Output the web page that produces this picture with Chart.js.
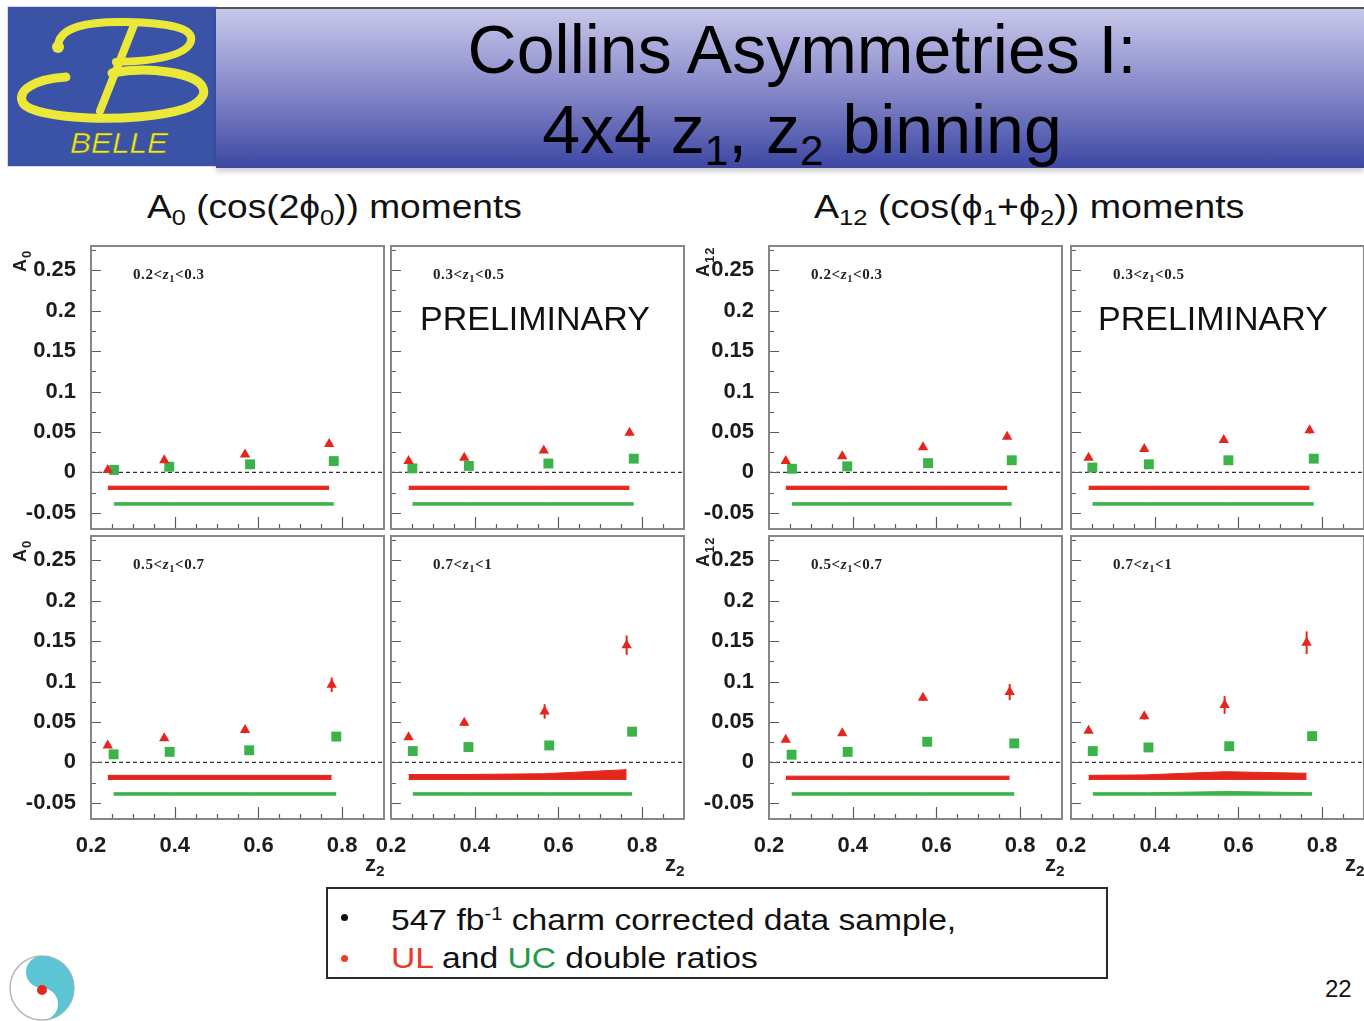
<!DOCTYPE html>
<html>
<head>
<meta charset="utf-8">
<title>Collins Asymmetries I: 4x4 z1, z2 binning</title>
<script src="https://cdn.jsdelivr.net/npm/chart.js@4.4.1/dist/chart.umd.min.js"></script>
<style>
  html, body { margin: 0; padding: 0; background: #fff; }
  body { width: 1364px; height: 1021px; overflow: hidden; position: relative;
         font-family: 'Liberation Sans', Arial, Helvetica, sans-serif; color: #111; }
  .abs { position: absolute; white-space: nowrap; }
  #logo { left: 8px; top: 7px; width: 208px; height: 159px; background: #3a53a7;
          box-shadow: 0 0 0 1px #d8d8e8; }
  #banner { left: 216px; top: 7px; width: 1148px; height: 159px;
            background: linear-gradient(to bottom, #c8c8e9 0%, #abacdc 22%, #8789c9 50%, #5e65b4 78%, #3d47a3 100%);
            border-top: 2px solid #555; box-shadow: 0 4px 5px rgba(0,0,0,0.18); }
  .title { font-size: 68px; line-height: 68px; color: #000; text-align: center; width: 900px; left: 352px; }
  .title sub { font-size: 0.62em; vertical-align: -0.28em; line-height: 0; }
  .sub { font-size: 33px; line-height: 33px; color: #111; transform-origin: left top; }
  .sub sub { font-size: 0.68em; vertical-align: -0.3em; line-height: 0; }
  .zlab { font-family: 'Liberation Serif', 'Times New Roman', serif; font-weight: bold; font-size: 15px;
          line-height: 16px; color: #222; letter-spacing: 0.6px; }
  .zlab sub { font-size: 0.7em; vertical-align: -0.3em; line-height: 0; }
  .prelim { font-size: 34px; line-height: 34px; color: #111; }
  .ytitle { font-size: 18px; line-height: 18px; font-weight: bold; color: #222; letter-spacing: 1px;
            transform-origin: left top; transform: rotate(-90deg); }
  .ytitle sub { font-size: 0.72em; vertical-align: -0.35em; line-height: 0; }
  .xtitle { font-size: 22px; line-height: 22px; font-weight: bold; color: #222; }
  .xtitle sub { font-size: 0.7em; vertical-align: -0.35em; line-height: 0; }
  #note { left: 326px; top: 887px; width: 778px; height: 88px; border: 2px solid #2a2a2a; }
  .line { font-size: 30px; line-height: 30px; color: #111; transform-origin: left top; transform: scaleX(1.12); }
  .line sup { font-size: 0.6em; vertical-align: 0.55em; line-height: 0; }
  .dot { width: 7px; height: 7px; border-radius: 50%; }
  canvas.panel { position: absolute; }
</style>
</head>
<body>

<div id="logo" class="abs">
  <svg width="208" height="159" viewBox="0 0 208 159">
    <g fill="none" stroke="#ece83a" stroke-linecap="round">
      <!-- upper bowl of the B -->
      <path d="M50 40 C50 20 80 14 118 15 C158 16 186 20 183 34 C179 48 150 54 108 55" stroke-width="8"/>
      <!-- slanted stem -->
      <path d="M126 18 L92 104" stroke-width="8"/>
      <!-- lower bowl -->
      <path d="M58 70 C26 72 8 84 15 96 C26 113 128 117 176 102 C205 92 204 71 160 65 C140 62 120 63 104 66" stroke-width="9"/>
    </g>
    <circle cx="50" cy="40" r="6" fill="#ece83a"/>
    <text x="62" y="146" font-family="Liberation Sans, Arial, sans-serif" font-style="italic" font-size="30"
          fill="#ece83a" stroke="#6b6a2a" stroke-width="0.6" textLength="98" lengthAdjust="spacingAndGlyphs">BELLE</text>
  </svg>
</div>
<div id="banner" class="abs"></div>
<div class="abs title" style="top:15px;">Collins Asymmetries I:</div>
<div class="abs title" style="top:95px;">4x4 z<sub>1</sub>, z<sub>2</sub> binning</div>

<div class="abs sub" style="left:147px; top:190px; transform:scaleX(1.125);">A<sub>0</sub> (cos(2ϕ<sub>0</sub>)) moments</div>
<div class="abs sub" style="left:814px; top:190px; transform:scaleX(1.14);">A<sub>12</sub> (cos(ϕ<sub>1</sub>+ϕ<sub>2</sub>)) moments</div>

<div id="note" class="abs"></div>
<div class="abs dot" style="left:341px; top:914px; background:#111;"></div>
<div class="abs dot" style="left:341px; top:955px; background:#ef3b2c;"></div>
<div class="abs line" style="left:391px; top:905px;">547 fb<sup>-1</sup> charm corrected data sample,</div>
<div class="abs line" style="left:391px; top:943px;"><span style="color:#ea3a2b">UL</span> and <span style="color:#1f9a49">UC</span> double ratios</div>
<div class="abs" style="left:1325px; top:977px; font-size:24px; line-height:24px; color:#111;">22</div>

<div class="abs" style="left:6px; top:952px;">
  <svg width="72" height="72" viewBox="0 0 72 72">
    <circle cx="36" cy="36" r="32" fill="#fff" stroke="#b8b8b8" stroke-width="1.5"/>
    <path d="M36 4 A32 32 0 0 1 36 68 A16 16 0 0 0 36 36 A16 16 0 0 1 36 4 Z" fill="#5cc4d2"/>
    <circle cx="36" cy="38" r="5" fill="#e3261f"/>
  </svg>
</div>

<script>
// ---- axis ticks ----
const z2Ticks = [0.2, 0.4, 0.6, 0.8];
const asymTicks = [-0.05, 0, 0.05, 0.1, 0.15, 0.2, 0.25];
const z1Bins = ['0.2<z1<0.3', '0.3<z1<0.5', '0.5<z1<0.7', '0.7<z1<1'];

// ---- mean z2 of the four z2 bins, one row per z1 bin ----
const ulZ2 = [
  [0.240, 0.375, 0.568, 0.769],
  [0.242, 0.375, 0.565, 0.770],
  [0.240, 0.375, 0.568, 0.775],
  [0.242, 0.375, 0.567, 0.763]
];
const ucZ2 = [
  [0.255, 0.387, 0.580, 0.780],
  [0.251, 0.386, 0.576, 0.780],
  [0.254, 0.388, 0.578, 0.786],
  [0.252, 0.385, 0.578, 0.776]
];

// ---- A0 moments: cos(2phi0) ----
const a0UL = [
  [0.003, 0.015, 0.022, 0.035],
  [0.014, 0.018, 0.027, 0.049],
  [0.021, 0.030, 0.040, 0.096],
  [0.031, 0.049, 0.063, 0.145]
];
const a0ULErr = [
  [0.002, 0.002, 0.003, 0.003],
  [0.002, 0.002, 0.003, 0.004],
  [0.002, 0.003, 0.004, 0.009],
  [0.003, 0.004, 0.009, 0.012]
];
const a0UC = [
  [0.003, 0.007, 0.010, 0.014],
  [0.005, 0.008, 0.011, 0.017],
  [0.010, 0.013, 0.015, 0.032],
  [0.014, 0.019, 0.021, 0.038]
];
const a0UCErr = [
  [0.001, 0.001, 0.002, 0.002],
  [0.001, 0.001, 0.002, 0.002],
  [0.001, 0.002, 0.002, 0.003],
  [0.002, 0.002, 0.003, 0.004]
];
const a0ULSys = [
  [0.004, 0.004, 0.004, 0.004],
  [0.004, 0.004, 0.004, 0.004],
  [0.005, 0.005, 0.005, 0.005],
  [0.006, 0.006, 0.007, 0.012]
];
const a0UCSys = [
  [0.003, 0.003, 0.003, 0.003],
  [0.003, 0.003, 0.003, 0.003],
  [0.003, 0.003, 0.003, 0.003],
  [0.003, 0.003, 0.003, 0.003]
];

// ---- A12 moments: cos(phi1+phi2) ----
const a12UL = [
  [0.014, 0.020, 0.031, 0.044],
  [0.018, 0.029, 0.040, 0.052],
  [0.028, 0.036, 0.080, 0.087],
  [0.039, 0.057, 0.071, 0.148]
];
const a12ULErr = [
  [0.002, 0.002, 0.003, 0.003],
  [0.002, 0.002, 0.003, 0.004],
  [0.002, 0.003, 0.004, 0.010],
  [0.003, 0.004, 0.011, 0.014]
];
const a12UC = [
  [0.0045, 0.0075, 0.0115, 0.015],
  [0.006, 0.010, 0.015, 0.017],
  [0.0095, 0.013, 0.0255, 0.0235],
  [0.014, 0.0185, 0.020, 0.0325]
];
const a12UCErr = [
  [0.001, 0.001, 0.002, 0.002],
  [0.001, 0.001, 0.002, 0.002],
  [0.001, 0.002, 0.002, 0.003],
  [0.002, 0.002, 0.003, 0.004]
];
const a12ULSys = [
  [0.004, 0.004, 0.004, 0.004],
  [0.004, 0.004, 0.004, 0.004],
  [0.004, 0.004, 0.004, 0.004],
  [0.005, 0.0055, 0.0095, 0.0075]
];
const a12UCSys = [
  [0.003, 0.003, 0.003, 0.003],
  [0.003, 0.003, 0.003, 0.003],
  [0.003, 0.003, 0.003, 0.003],
  [0.003, 0.003, 0.0045, 0.003]
];

// systematic bands are drawn as offset strips below zero
const ulBandBase = -0.021;
const ucBandBase = -0.0405;

// ---- styling ----
const RED = '#e4271d';
const GREEN = '#3cb34a';
const TICK_FONT = { family: "'Liberation Sans', Arial, sans-serif", size: 22, weight: 'bold' };

// frame rectangle plus inward ROOT-style tick marks
const framePlugin = {
  id: 'rootFrame',
  afterDatasetsDraw(chart) {
    const { ctx, chartArea: a, scales: { x, y } } = chart;
    ctx.save();
    ctx.strokeStyle = '#5a5a5a';
    ctx.lineWidth = 1.2;
    ctx.beginPath();
    for (let i = -2; i <= 11; i++) {
      const v = i * 0.025;
      const py = Math.round(y.getPixelForValue(v)) + 0.5;
      if (py <= a.top + 1 || py >= a.bottom - 1) continue;
      const len = (i % 2 === 0) ? 10 : 5;
      ctx.moveTo(a.left, py); ctx.lineTo(a.left + len, py);
    }
    for (let i = 5; i <= 17; i++) {
      const v = i * 0.05;
      const px = Math.round(x.getPixelForValue(v)) + 0.5;
      if (px <= a.left + 1 || px >= a.right - 1) continue;
      const len = (i % 4 === 0) ? 12 : 5;
      ctx.moveTo(px, a.bottom); ctx.lineTo(px, a.bottom - len);
    }
    ctx.stroke();
    ctx.strokeStyle = '#868686';
    ctx.lineWidth = 2;
    ctx.strokeRect(a.left, a.top, a.width, a.height);
    ctx.restore();
  }
};

// vertical statistical error bars for point datasets carrying yErr
const errorBarPlugin = {
  id: 'errorBars',
  afterDatasetsDraw(chart) {
    const { ctx, scales: { y } } = chart;
    ctx.save();
    chart.data.datasets.forEach((ds, di) => {
      if (!ds.yErr) return;
      const meta = chart.getDatasetMeta(di);
      ctx.strokeStyle = ds.backgroundColor;
      ctx.lineWidth = 2;
      meta.data.forEach((pt, i) => {
        const v = ds.data[i].y, e = ds.yErr[i];
        ctx.beginPath();
        ctx.moveTo(pt.x, y.getPixelForValue(v - e));
        ctx.lineTo(pt.x, y.getPixelForValue(v + e));
        ctx.stroke();
      });
    });
    ctx.restore();
  }
};

const toXY = (xs, ys) => xs.map((xv, i) => ({ x: xv, y: ys[i] }));

// panel geometry (plot frame corners)
const frameLeft = [91, 391, 769, 1071];
const frameTop = [245, 535];
const FRAME_W = 294, FRAME_H = 284;
const PAD_L = 80, PAD_T = 6, PAD_R = 6, PAD_B = 40;

function makePanel(col, row, bin, ul, ulErr, uc, ucErr, ulSys, ucSys) {
  const cv = document.createElement('canvas');
  cv.className = 'panel';
  cv.width = PAD_L + FRAME_W + PAD_R;
  cv.height = PAD_T + FRAME_H + PAD_B;
  cv.style.left = (frameLeft[col] - PAD_L) + 'px';
  cv.style.top = (frameTop[row] - PAD_T) + 'px';
  document.body.appendChild(cv);

  const showY = (col % 2 === 0);
  const showX = (row === 1);
  const ulLow = ul.map(() => ulBandBase);
  const ulHigh = ulSys.map(s => ulBandBase + s);
  const ucLow = uc.map(() => ucBandBase);
  const ucHigh = ucSys.map(s => ucBandBase + s);

  return new Chart(cv, {
    type: 'scatter',
    data: {
      datasets: [
        { label: 'UL', data: toXY(ulZ2[bin], ul), yErr: ulErr, pointStyle: 'triangle',
          pointRadius: 6, backgroundColor: RED, borderWidth: 0 },
        { label: 'UC', data: toXY(ucZ2[bin], uc), yErr: ucErr, pointStyle: 'rect',
          pointRadius: 7, backgroundColor: GREEN, borderWidth: 0 },
        { type: 'line', label: 'UL sys low', data: toXY(ulZ2[bin], ulLow), borderColor: RED,
          borderWidth: 1, pointRadius: 0, fill: false, tension: 0 },
        { type: 'line', label: 'UL sys', data: toXY(ulZ2[bin], ulHigh), borderColor: RED,
          backgroundColor: RED, borderWidth: 1, pointRadius: 0, fill: 2, tension: 0 },
        { type: 'line', label: 'UC sys low', data: toXY(ucZ2[bin], ucLow), borderColor: GREEN,
          borderWidth: 1, pointRadius: 0, fill: false, tension: 0 },
        { type: 'line', label: 'UC sys', data: toXY(ucZ2[bin], ucHigh), borderColor: GREEN,
          backgroundColor: GREEN, borderWidth: 1, pointRadius: 0, fill: 4, tension: 0 },
        { type: 'line', label: 'zero', data: [{ x: 0.2, y: 0 }, { x: 0.9, y: 0 }], borderColor: '#333',
          borderWidth: 1.4, borderDash: [4, 3], pointRadius: 0, fill: false }
      ]
    },
    options: {
      responsive: false,
      animation: false,
      devicePixelRatio: 1,
      layout: { padding: { top: PAD_T, right: PAD_R, left: 0, bottom: 0 } },
      plugins: { legend: { display: false }, tooltip: { enabled: false } },
      scales: {
        x: {
          type: 'linear', min: 0.2, max: 0.9,
          afterBuildTicks: s => { s.ticks = z2Ticks.map(v => ({ value: v })); },
          afterFit: s => { s.height = PAD_B; s.paddingLeft = 0; s.paddingRight = 0; },
          grid: { display: false, drawTicks: false },
          border: { display: false },
          ticks: { display: showX, autoSkip: false, maxRotation: 0, padding: 14, font: TICK_FONT,
                   color: '#1c1c1c', callback: v => Number(v).toFixed(1) }
        },
        y: {
          type: 'linear', min: -0.07, max: 0.28,
          afterBuildTicks: s => { s.ticks = asymTicks.map(v => ({ value: v })); },
          afterFit: s => { s.width = PAD_L; s.paddingTop = 0; s.paddingBottom = 0; },
          grid: { display: false, drawTicks: false },
          border: { display: false },
          ticks: { display: showY, autoSkip: false, padding: 15, font: TICK_FONT, color: '#1c1c1c',
                   callback: v => String(v) }
        }
      }
    },
    plugins: [errorBarPlugin, framePlugin]
  });
}

function addLabel(cls, html, left, top) {
  const d = document.createElement('div');
  d.className = 'abs ' + cls;
  d.innerHTML = html;
  d.style.left = left + 'px';
  d.style.top = top + 'px';
  document.body.appendChild(d);
}

const groups = [
  { cols: [0, 1], ul: a0UL, ulErr: a0ULErr, uc: a0UC, ucErr: a0UCErr, ulSys: a0ULSys, ucSys: a0UCSys,
    yTitle: 'A<sub>0</sub>', yTitleLeft: 11, yTitleDy: 27 },
  { cols: [2, 3], ul: a12UL, ulErr: a12ULErr, uc: a12UC, ucErr: a12UCErr, ulSys: a12ULSys, ucSys: a12UCSys,
    yTitle: 'A<sub>12</sub>', yTitleLeft: 694, yTitleDy: 32 }
];

groups.forEach(g => {
  for (let bin = 0; bin < 4; bin++) {
    const col = g.cols[bin % 2];
    const row = Math.floor(bin / 2);
    makePanel(col, row, bin, g.ul[bin], g.ulErr[bin], g.uc[bin], g.ucErr[bin], g.ulSys[bin], g.ucSys[bin]);
    const txt = z1Bins[bin].replace(/</g, '&lt;').replace('z1', '<i>z</i><sub>1</sub>');
    addLabel('zlab', txt, frameLeft[col] + 42, frameTop[row] + 21);
  }
  addLabel('ytitle', g.yTitle, g.yTitleLeft, frameTop[0] + g.yTitleDy);
  addLabel('ytitle', g.yTitle, g.yTitleLeft, frameTop[1] + g.yTitleDy);
});

addLabel('prelim', 'PRELIMINARY', 420, 301);
addLabel('prelim', 'PRELIMINARY', 1098, 301);
[365, 665, 1045, 1345].forEach(xp => addLabel('xtitle', 'z<sub>2</sub>', xp, 853));
</script>
</body>
</html>
